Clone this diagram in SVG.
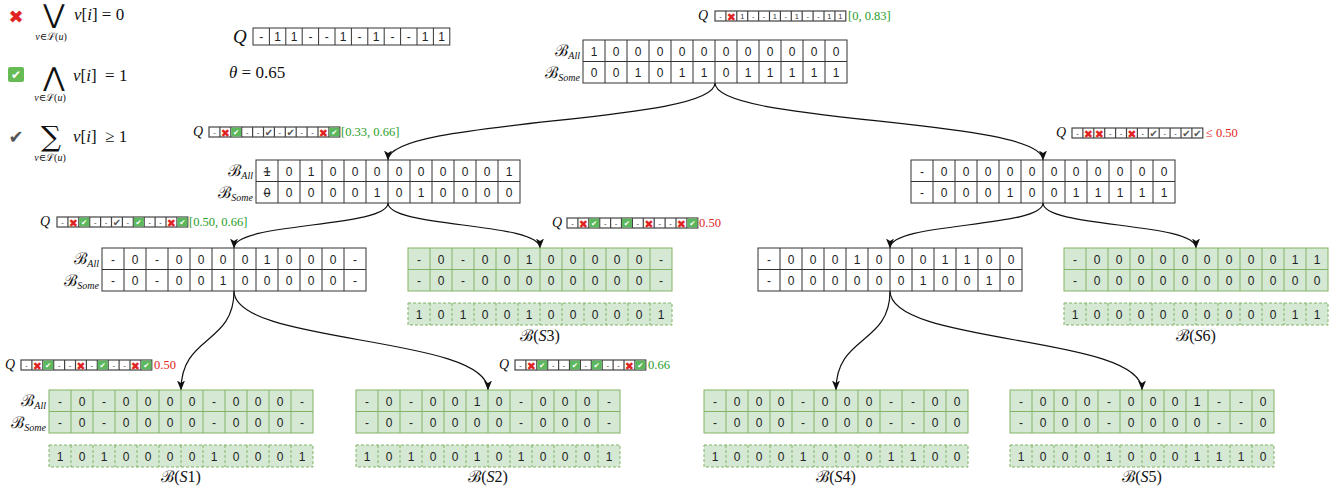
<svg xmlns="http://www.w3.org/2000/svg" xmlns:xlink="http://www.w3.org/1999/xlink" width="1335" height="490" viewBox="0 0 1335 490">
<style>
.w{fill:#fff;stroke:#333;stroke-width:1}
.gr{fill:#d5e8d4;stroke:#82b366;stroke-width:1}
.dsh{fill:#d5e8d4;stroke:#82b366;stroke-width:1;stroke-dasharray:3 2}
.c{font-family:"Liberation Sans",Arial,sans-serif;font-size:12px;fill:#222;text-anchor:middle}
.st{text-decoration:line-through}
.q{fill:#fff;stroke:#444;stroke-width:1.2}
.qm{fill:#fff;stroke:#333;stroke-width:1}
.qc{font-family:"Liberation Sans",Arial,sans-serif;font-size:7.5px;fill:#333;text-anchor:middle}
.xm{font-family:"DejaVu Sans",sans-serif;font-size:11px;fill:#e02424;text-anchor:middle}
.gbx{fill:#5cb85c}
.ck{font-family:"DejaVu Sans",sans-serif;font-size:7.5px;fill:#fff;text-anchor:middle}
.gc{font-family:"DejaVu Sans",sans-serif;font-size:10px;fill:#555;text-anchor:middle}
.m{font-family:"Liberation Serif","DejaVu Serif",serif;fill:#111}
.i{font-style:italic}
.bl{font-family:"DejaVu Serif",serif;font-size:16px;text-anchor:end;fill:#111}
.sub{font-family:"Liberation Serif",serif;font-style:italic;font-size:10px}
.ql{font-family:"Liberation Serif",serif;font-style:italic;font-size:14px;fill:#111;text-anchor:middle}
.grn{font-family:"Liberation Serif",serif;font-size:12.5px;fill:#1f9e1f}
.red{font-family:"Liberation Serif",serif;font-size:12.5px;fill:#e02424}
.lab{font-family:"Liberation Serif","DejaVu Serif",serif;font-size:16px;fill:#111;text-anchor:middle}
.edge{fill:none;stroke:#111;stroke-width:1.2;marker-end:url(#arr)}
</style>
<defs>
<marker id="arr" markerUnits="userSpaceOnUse" markerWidth="10" markerHeight="10" viewBox="0 0 10 8" refX="9.5" refY="4" orient="auto">
<path d="M0,0 L10,4 L0,8 L2.5,4 Z" fill="#111"/>
</marker>
<g id="tbl"><rect width="264" height="43"/><path d="M22 0V43M44 0V43M66 0V43M88 0V43M110 0V43M132 0V43M154 0V43M176 0V43M198 0V43M220 0V43M242 0V43M0 21.5H264"/></g>
<g id="drow"><rect width="264" height="22"/><path d="M22 0V22M44 0V22M66 0V22M88 0V22M110 0V22M132 0V22M154 0V22M176 0V22M198 0V22M220 0V22M242 0V22"/></g>
<g id="qa"><rect width="130.8" height="10"/><path d="M10.9 0V10M21.8 0V10M32.7 0V10M43.6 0V10M54.5 0V10M65.4 0V10M76.3 0V10M87.2 0V10M98.1 0V10M109 0V10M119.9 0V10"/></g>
</defs>

<g id="legend">
<text x="16" y="23" font-family="DejaVu Sans" font-size="18" fill="#e02424" text-anchor="middle">✖</text>
<text x="54" y="23" font-family="DejaVu Sans" font-size="26" fill="#111" text-anchor="middle">⋁</text>
<text class="m" x="51" y="40" font-size="10" text-anchor="middle"><tspan class="i">v</tspan>∈ℒ(<tspan class="i">u</tspan>)</text>
<text class="m" x="74" y="20" font-size="17" xml:space="preserve"><tspan class="i">v</tspan>[<tspan class="i">i</tspan>] = 0</text>

<rect x="8" y="67" width="16" height="15" rx="2" fill="#66bb55"/>
<text x="16" y="79" font-family="DejaVu Sans" font-size="12" fill="#fff" text-anchor="middle">✔</text>
<text x="54" y="86" font-family="DejaVu Sans" font-size="26" fill="#111" text-anchor="middle">⋀</text>
<text class="m" x="50" y="101" font-size="10" text-anchor="middle"><tspan class="i">v</tspan>∈ℒ(<tspan class="i">u</tspan>)</text>
<text class="m" x="73" y="81" font-size="17" xml:space="preserve"><tspan class="i">v</tspan>[<tspan class="i">i</tspan>]  = 1</text>

<text x="16" y="143" font-family="DejaVu Sans" font-size="18" fill="#555" text-anchor="middle">✔</text>
<text x="51" y="146" font-family="DejaVu Serif" font-size="28" fill="#111" text-anchor="middle">∑</text>
<text class="m" x="50" y="161" font-size="10" text-anchor="middle"><tspan class="i">v</tspan>∈ℒ(<tspan class="i">u</tspan>)</text>
<text class="m" x="73" y="142" font-size="17" xml:space="preserve"><tspan class="i">v</tspan>[<tspan class="i">i</tspan>]  ≥ 1</text>
</g>

<g id="query">
<text class="m i" x="233" y="43" font-size="19">Q</text>
<g transform="translate(253,28)">
<rect class="qm" width="196.8" height="17"/>
<path class="qm" d="M16.4 0V17M32.8 0V17M49.2 0V17M65.6 0V17M82 0V17M98.4 0V17M114.8 0V17M131.2 0V17M147.6 0V17M164 0V17M180.4 0V17"/>
<text class="c" x="8.2 24.6 41 57.4 73.8 90.2 106.6 123 139.4 155.8 172.2 188.6" y="13" font-size="12">-11--1-1--11</text>
</g>
<text class="m" x="229" y="78" font-size="17"><tspan class="i">θ</tspan> = 0.65</text>
</g>

<g id="connectors">
<path class="edge" d="M715,83 C715,124 388,118 388,160"/>
<path class="edge" d="M715,83 C715,124 1043,118 1043,160"/>
<path class="edge" d="M388,203 C388,228 234,222 234,248"/>
<path class="edge" d="M388,203 C388,228 540,222 540,248"/>
<path class="edge" d="M1043,203 C1043,228 890,222 890,248"/>
<path class="edge" d="M1043,203 C1043,228 1196,222 1196,248"/>
<path class="edge" d="M234,291 C234,345 181,335 181,390"/>
<path class="edge" d="M234,291 C234,345 488,335 488,390"/>
<path class="edge" d="M890,291 C890,345 836,335 836,390"/>
<path class="edge" d="M890,291 C890,345 1142,335 1142,390"/>
</g>

<g id="root">
<text class="bl" x="580" y="56">ℬ<tspan class="sub" dy="3">All</tspan></text>
<text class="bl" x="580" y="77.5">ℬ<tspan class="sub" dy="3">Some</tspan></text>
<g transform="translate(583,40)">
<use href="#tbl" class="w"/>
<text class="c" x="11 33 55 77 99 121 143 165 187 209 231 253" y="15.5">100000000000</text>
<text class="c" x="11 33 55 77 99 121 143 165 187 209 231 253" y="37">001011011111</text>
</g>
<text class="ql" x="703" y="20">Q</text>
<g transform="translate(715,11)">
<use href="#qa" class="q"/>
<text class="qc" x="5.45" y="8">-</text>
<text class="xm" x="16.35" y="9.5">✖</text>
<text class="qc" x="27.25" y="8">1</text>
<text class="qc" x="38.15" y="8">-</text>
<text class="qc" x="49.05" y="8">-</text>
<text class="qc" x="59.95" y="8">1</text>
<text class="qc" x="70.85" y="8">-</text>
<text class="qc" x="81.75" y="8">1</text>
<text class="qc" x="92.65" y="8">-</text>
<text class="qc" x="103.55" y="8">-</text>
<text class="qc" x="114.45" y="8">1</text>
<text class="qc" x="125.35" y="8">1</text>
</g>
<text class="grn" x="848" y="20">[0, 0.83]</text>
</g>

<g id="l1left">
<text class="bl" x="253" y="176">ℬ<tspan class="sub" dy="3">All</tspan></text>
<text class="bl" x="253" y="197.5">ℬ<tspan class="sub" dy="3">Some</tspan></text>
<g transform="translate(256,160)">
<use href="#tbl" class="w"/>
<text class="c st" x="11" y="15.5">1</text>
<text class="c" x="33 55 77 99 121 143 165 187 209 231 253" y="15.5">01000000001</text>
<text class="c st" x="11" y="37">0</text>
<text class="c" x="33 55 77 99 121 143 165 187 209 231 253" y="37">00001010000</text>
</g>
<text class="ql" x="198" y="136">Q</text>
<g transform="translate(209,127)">
<use href="#qa" class="q"/>
<text class="qc" x="5.45" y="8">-</text>
<text class="xm" x="16.35" y="9.5">✖</text>
<rect class="gbx" x="22.25" y="0.6" width="10" height="8.8"/><text class="ck" x="27.25" y="8">✔</text>
<text class="qc" x="38.15" y="8">-</text>
<text class="qc" x="49.05" y="8">-</text>
<text class="gc" x="59.95" y="9">✔</text>
<text class="qc" x="70.85" y="8">-</text>
<text class="gc" x="81.75" y="9">✔</text>
<text class="qc" x="92.65" y="8">-</text>
<text class="qc" x="103.55" y="8">-</text>
<text class="xm" x="114.45" y="9.5">✖</text>
<rect class="gbx" x="120.35" y="0.6" width="10" height="8.8"/><text class="ck" x="125.35" y="8">✔</text>
</g>
<text class="grn" x="341" y="136">[0.33, 0.66]</text>
</g>

<g id="l1right">
<g transform="translate(911,160)">
<use href="#tbl" class="w"/>
<text class="c" x="11 33 55 77 99 121 143 165 187 209 231 253" y="15.5">-00000000000</text>
<text class="c" x="11 33 55 77 99 121 143 165 187 209 231 253" y="37">-00010011111</text>
</g>
<text class="ql" x="1061" y="137">Q</text>
<g transform="translate(1072,128)">
<use href="#qa" class="q"/>
<text class="qc" x="5.45" y="8">-</text>
<text class="xm" x="16.35" y="9.5">✖</text>
<text class="xm" x="27.25" y="9.5">✖</text>
<text class="qc" x="38.15" y="8">-</text>
<text class="qc" x="49.05" y="8">-</text>
<text class="xm" x="59.95" y="9.5">✖</text>
<text class="qc" x="70.85" y="8">-</text>
<text class="gc" x="81.75" y="9">✔</text>
<text class="qc" x="92.65" y="8">-</text>
<text class="qc" x="103.55" y="8">-</text>
<text class="gc" x="114.45" y="9">✔</text>
<text class="gc" x="125.35" y="9">✔</text>
</g>
<text class="red" x="1206" y="137">≤ 0.50</text>
</g>

<g id="l2a">
<text class="bl" x="99" y="264">ℬ<tspan class="sub" dy="3">All</tspan></text>
<text class="bl" x="99" y="285.5">ℬ<tspan class="sub" dy="3">Some</tspan></text>
<g transform="translate(102,248)">
<use href="#tbl" class="w"/>
<text class="c" x="11 33 55 77 99 121 143 165 187 209 231 253" y="15.5">-0-00001000-</text>
<text class="c" x="11 33 55 77 99 121 143 165 187 209 231 253" y="37">-0-00100000-</text>
</g>
<text class="ql" x="45" y="226">Q</text>
<g transform="translate(57,217)">
<use href="#qa" class="q"/>
<text class="qc" x="5.45" y="8">-</text>
<text class="xm" x="16.35" y="9.5">✖</text>
<rect class="gbx" x="22.25" y="0.6" width="10" height="8.8"/><text class="ck" x="27.25" y="8">✔</text>
<text class="qc" x="38.15" y="8">-</text>
<text class="qc" x="49.05" y="8">-</text>
<text class="gc" x="59.95" y="9">✔</text>
<text class="qc" x="70.85" y="8">-</text>
<rect class="gbx" x="76.75" y="0.6" width="10" height="8.8"/><text class="ck" x="81.75" y="8">✔</text>
<text class="qc" x="92.65" y="8">-</text>
<text class="qc" x="103.55" y="8">-</text>
<text class="xm" x="114.45" y="9.5">✖</text>
<rect class="gbx" x="120.35" y="0.6" width="10" height="8.8"/><text class="ck" x="125.35" y="8">✔</text>
</g>
<text class="grn" x="189" y="226">[0.50, 0.66]</text>
</g>

<g id="s3">
<g transform="translate(408,248)">
<use href="#tbl" class="gr"/>
<text class="c" x="11 33 55 77 99 121 143 165 187 209 231 253" y="15.5">-0-00100000-</text>
<text class="c" x="11 33 55 77 99 121 143 165 187 209 231 253" y="37">-0-00000000-</text>
</g>
<g transform="translate(408,303)">
<use href="#drow" class="dsh"/>
<text class="c" x="11 33 55 77 99 121 143 165 187 209 231 253" y="15.5">101001000001</text>
</g>
<text class="lab" x="540" y="341">ℬ(<tspan class="i">S</tspan>3)</text>
<text class="ql" x="557" y="227">Q</text>
<g transform="translate(567,218)">
<use href="#qa" class="q"/>
<text class="qc" x="5.45" y="8">-</text>
<text class="xm" x="16.35" y="9.5">✖</text>
<rect class="gbx" x="22.25" y="0.6" width="10" height="8.8"/><text class="ck" x="27.25" y="8">✔</text>
<text class="qc" x="38.15" y="8">-</text>
<text class="qc" x="49.05" y="8">-</text>
<rect class="gbx" x="54.95" y="0.6" width="10" height="8.8"/><text class="ck" x="59.95" y="8">✔</text>
<text class="qc" x="70.85" y="8">-</text>
<text class="xm" x="81.75" y="9.5">✖</text>
<text class="qc" x="92.65" y="8">-</text>
<text class="qc" x="103.55" y="8">-</text>
<text class="xm" x="114.45" y="9.5">✖</text>
<rect class="gbx" x="120.35" y="0.6" width="10" height="8.8"/><text class="ck" x="125.35" y="8">✔</text>
</g>
<text class="red" x="699" y="227">0.50</text>
</g>

<g id="l2b">
<g transform="translate(758,248)">
<use href="#tbl" class="w"/>
<text class="c" x="11 33 55 77 99 121 143 165 187 209 231 253" y="15.5">-00010001100</text>
<text class="c" x="11 33 55 77 99 121 143 165 187 209 231 253" y="37">-00000010010</text>
</g>
</g>

<g id="s6">
<g transform="translate(1064,248)">
<use href="#tbl" class="gr"/>
<text class="c" x="11 33 55 77 99 121 143 165 187 209 231 253" y="15.5">-00000000011</text>
<text class="c" x="11 33 55 77 99 121 143 165 187 209 231 253" y="37">-00000000000</text>
</g>
<g transform="translate(1064,303)">
<use href="#drow" class="dsh"/>
<text class="c" x="11 33 55 77 99 121 143 165 187 209 231 253" y="15.5">100000000011</text>
</g>
<text class="lab" x="1196" y="341">ℬ(<tspan class="i">S</tspan>6)</text>
</g>

<g id="s1">
<text class="bl" x="46" y="406">ℬ<tspan class="sub" dy="3">All</tspan></text>
<text class="bl" x="46" y="427.5">ℬ<tspan class="sub" dy="3">Some</tspan></text>
<g transform="translate(49,390)">
<use href="#tbl" class="gr"/>
<text class="c" x="11 33 55 77 99 121 143 165 187 209 231 253" y="15.5">-0-0000-000-</text>
<text class="c" x="11 33 55 77 99 121 143 165 187 209 231 253" y="37">-0-0000-000-</text>
</g>
<g transform="translate(49,445)">
<use href="#drow" class="dsh"/>
<text class="c" x="11 33 55 77 99 121 143 165 187 209 231 253" y="15.5">101000010001</text>
</g>
<text class="lab" x="181" y="482">ℬ(<tspan class="i">S</tspan>1)</text>
<text class="ql" x="10" y="369">Q</text>
<g transform="translate(21,360)">
<use href="#qa" class="q"/>
<text class="qc" x="5.45" y="8">-</text>
<text class="xm" x="16.35" y="9.5">✖</text>
<rect class="gbx" x="22.25" y="0.6" width="10" height="8.8"/><text class="ck" x="27.25" y="8">✔</text>
<text class="qc" x="38.15" y="8">-</text>
<text class="qc" x="49.05" y="8">-</text>
<text class="xm" x="59.95" y="9.5">✖</text>
<text class="qc" x="70.85" y="8">-</text>
<rect class="gbx" x="76.75" y="0.6" width="10" height="8.8"/><text class="ck" x="81.75" y="8">✔</text>
<text class="qc" x="92.65" y="8">-</text>
<text class="qc" x="103.55" y="8">-</text>
<text class="xm" x="114.45" y="9.5">✖</text>
<rect class="gbx" x="120.35" y="0.6" width="10" height="8.8"/><text class="ck" x="125.35" y="8">✔</text>
</g>
<text class="red" x="154" y="369">0.50</text>
</g>

<g id="s2">
<g transform="translate(356,390)">
<use href="#tbl" class="gr"/>
<text class="c" x="11 33 55 77 99 121 143 165 187 209 231 253" y="15.5">-0-0010-000-</text>
<text class="c" x="11 33 55 77 99 121 143 165 187 209 231 253" y="37">-0-0000-000-</text>
</g>
<g transform="translate(356,445)">
<use href="#drow" class="dsh"/>
<text class="c" x="11 33 55 77 99 121 143 165 187 209 231 253" y="15.5">101001010001</text>
</g>
<text class="lab" x="488" y="482">ℬ(<tspan class="i">S</tspan>2)</text>
<text class="ql" x="504" y="369">Q</text>
<g transform="translate(515,360)">
<use href="#qa" class="q"/>
<text class="qc" x="5.45" y="8">-</text>
<text class="xm" x="16.35" y="9.5">✖</text>
<rect class="gbx" x="22.25" y="0.6" width="10" height="8.8"/><text class="ck" x="27.25" y="8">✔</text>
<text class="qc" x="38.15" y="8">-</text>
<text class="qc" x="49.05" y="8">-</text>
<rect class="gbx" x="54.95" y="0.6" width="10" height="8.8"/><text class="ck" x="59.95" y="8">✔</text>
<text class="qc" x="70.85" y="8">-</text>
<rect class="gbx" x="76.75" y="0.6" width="10" height="8.8"/><text class="ck" x="81.75" y="8">✔</text>
<text class="qc" x="92.65" y="8">-</text>
<text class="qc" x="103.55" y="8">-</text>
<text class="xm" x="114.45" y="9.5">✖</text>
<rect class="gbx" x="120.35" y="0.6" width="10" height="8.8"/><text class="ck" x="125.35" y="8">✔</text>
</g>
<text class="grn" x="648" y="369">0.66</text>
</g>

<g id="s4">
<g transform="translate(704,390)">
<use href="#tbl" class="gr"/>
<text class="c" x="11 33 55 77 99 121 143 165 187 209 231 253" y="15.5">-000-000--00</text>
<text class="c" x="11 33 55 77 99 121 143 165 187 209 231 253" y="37">-000-000--00</text>
</g>
<g transform="translate(704,445)">
<use href="#drow" class="dsh"/>
<text class="c" x="11 33 55 77 99 121 143 165 187 209 231 253" y="15.5">100010001100</text>
</g>
<text class="lab" x="836" y="482">ℬ(<tspan class="i">S</tspan>4)</text>
</g>

<g id="s5">
<g transform="translate(1010,390)">
<use href="#tbl" class="gr"/>
<text class="c" x="11 33 55 77 99 121 143 165 187 209 231 253" y="15.5">-000-0001--0</text>
<text class="c" x="11 33 55 77 99 121 143 165 187 209 231 253" y="37">-000-0000--0</text>
</g>
<g transform="translate(1010,445)">
<use href="#drow" class="dsh"/>
<text class="c" x="11 33 55 77 99 121 143 165 187 209 231 253" y="15.5">100010001110</text>
</g>
<text class="lab" x="1142" y="482">ℬ(<tspan class="i">S</tspan>5)</text>
</g>
</svg>
